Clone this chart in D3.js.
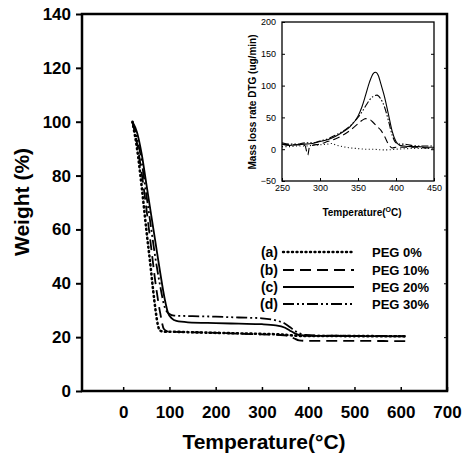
<!DOCTYPE html>
<html>
<head>
<meta charset="utf-8">
<script src="https://d3js.org/d3.v7.min.js"></script>
<style>
  body { margin: 0; background: #fff; }
  text { font-family: "Liberation Sans", Arial, sans-serif; fill: #000; }
</style>
</head>
<body>
<svg width="467" height="457"></svg>
<script>
// ---- data ----
const seriesNames = ['PEG 0%', 'PEG 10%', 'PEG 20%', 'PEG 30%'];
const seriesTags = ['(a)', '(b)', '(c)', '(d)'];

// TGA weight curves: [temperature, weight %]
const tgaA = [[20,100],[30,90],[40,76],[50,60],[60,45],[65,37],[70,30],[75,24.5],[80,22.4],[90,22],[100,22],[150,21.8],[200,21.6],[250,21.4],[300,21.2],[340,21],[355,20.8],[370,20.6],[390,20.4],[450,20.4],[610,20.3]];
const tgaB = [[20,100],[30,92],[40,81],[50,68],[60,54],[70,40],[80,29],[88,23],[95,22.2],[100,22],[150,21.8],[200,21.6],[250,21.3],[300,21],[340,20.8],[360,20.3],[370,19.5],[380,18.8],[400,18.6],[500,18.6],[610,18.5]];
const tgaC = [[20,100],[30,96],[40,88],[50,77],[60,66],[70,55],[80,44],[90,34],[97,29],[105,27],[115,26],[140,25.5],[200,25.2],[250,25],[300,24.8],[330,24.4],[350,23.5],[360,22.5],[370,21.5],[380,20.8],[400,20.5],[500,20.4],[610,20.3]];
const tgaD = [[20,100],[30,94],[40,85],[50,73],[60,61],[70,49],[80,39],[90,31],[100,28.6],[110,28],[150,27.8],[200,27.6],[250,27.3],[300,27],[330,26.2],[350,25],[360,23.8],[370,22.5],[380,21.5],[395,20.8],[420,20.6],[500,20.5],[610,20.4]];

// DTG inset curves: [temperature, mass loss rate]
const dtgA = [[250,4],[260,4],[270,5],[280,5],[290,6],[300,7],[310,8],[315,9],[320,7],[330,4],[340,2],[350,1],[360,0],[370,0],[380,-1],[390,-1],[400,0],[420,1],[450,1]];
const dtgB = [[250,8],[260,7],[270,7],[280,6],[284,-9],[286,3],[290,6],[300,8],[310,12],[320,16],[330,22],[340,30],[350,40],[355,45],[360,48],[365,47],[370,42],[375,36],[380,30],[385,20],[390,8],[395,2],[400,3],[410,3],[420,3],[430,3],[440,2],[450,2]];
const dtgC = [[250,8],[260,6],[270,7],[280,8],[290,9],[300,12],[310,15],[320,20],[330,27],[340,36],[350,52],[355,66],[360,85],[365,105],[370,119],[373,121],[377,115],[380,103],[385,82],[390,55],[395,28],[400,12],[405,6],[410,5],[420,4],[430,4],[440,3],[450,3]];
const dtgD = [[250,10],[260,8],[270,8],[280,10],[290,10],[300,13],[310,16],[320,22],[330,28],[340,37],[350,50],[355,58],[360,68],[365,77],[370,83],[375,85],[380,79],[385,66],[390,45],[395,22],[400,10],[405,8],[410,8],[420,6],[430,5],[440,5],[450,5]];

const mainXTicks = [0, 100, 200, 300, 400, 500, 600, 700];
const mainYTicks = [0, 20, 40, 60, 80, 100, 120, 140];
const insetXTicks = [250, 300, 350, 400, 450];
const insetYTicks = [-50, 0, 50, 100, 150, 200];

const dashes = ['1,3.5', '11,6', null, '11,3,2,3,2,3'];

const svg = d3.select('svg');

// ---- main chart ----
const x = d3.scaleLinear().domain([-89, 700]).range([82, 447]);
const y = d3.scaleLinear().domain([0, 140]).range([391, 14]);

const line = d3.line().x(d => x(d[0])).y(d => y(d[1])).curve(d3.curveMonotoneX);

const tga = [tgaA, tgaB, tgaC, tgaD];
tga.forEach((s, i) => {
    svg.append('path')
        .attr('d', line(s))
        .attr('fill', 'none')
        .attr('stroke', '#000')
        .attr('stroke-width', i === 0 ? 2.6 : 1.8)
        .attr('stroke-linecap', i === 0 ? 'round' : 'butt')
        .attr('stroke-dasharray', dashes[i]);
});

// frame
svg.append('rect')
    .attr('x', 82).attr('y', 14).attr('width', 365).attr('height', 377)
    .attr('fill', 'none').attr('stroke', '#000').attr('stroke-width', 2.5);

// y axis (ticks outward)
const yAxis = svg.append('g').attr('transform', 'translate(82,0)')
    .call(d3.axisLeft(y).tickValues(mainYTicks).tickSize(6).tickPadding(5));
yAxis.select('.domain').remove();
yAxis.selectAll('line').attr('stroke-width', 2);
yAxis.selectAll('text').attr('font-size', 17).attr('font-weight', 'bold')
    .style('font-family', '"Liberation Sans", Arial, sans-serif');

// x axis (ticks inward)
const xAxis = svg.append('g').attr('transform', 'translate(0,391)')
    .call(d3.axisBottom(x).tickValues(mainXTicks).tickSizeInner(-4).tickSizeOuter(0).tickPadding(15));
xAxis.select('.domain').remove();
xAxis.selectAll('line').attr('stroke-width', 1.5);
xAxis.selectAll('text').attr('font-size', 17).attr('font-weight', 'bold')
    .style('font-family', '"Liberation Sans", Arial, sans-serif');

// right side small ticks
svg.append('g').attr('transform', 'translate(447,0)')
    .call(d3.axisRight(y).tickValues(mainYTicks.slice(1, -1)).tickSize(-3).tickFormat(''))
    .call(g => g.select('.domain').remove());

svg.append('text')
    .attr('x', 264).attr('y', 449)
    .attr('text-anchor', 'middle')
    .attr('font-size', 21).attr('font-weight', 'bold')
    .text('Temperature(°C)');

svg.append('text')
    .attr('transform', 'translate(29,202) rotate(-90)')
    .attr('text-anchor', 'middle')
    .attr('font-size', 21).attr('font-weight', 'bold')
    .text('Weight (%)');

// legend
const legY = [252, 270, 287, 304];
seriesNames.forEach((name, i) => {
    svg.append('text')
        .attr('x', 278).attr('y', legY[i] + 5)
        .attr('text-anchor', 'end')
        .attr('font-size', 14).attr('font-weight', 'bold')
        .text(seriesTags[i]);
    svg.append('line')
        .attr('x1', 283).attr('x2', 354)
        .attr('y1', legY[i]).attr('y2', legY[i])
        .attr('stroke', '#000')
        .attr('stroke-width', i === 0 ? 2.4 : 1.8)
        .attr('stroke-linecap', i === 0 ? 'round' : 'butt')
        .attr('stroke-dasharray', dashes[i]);
    svg.append('text')
        .attr('x', 372).attr('y', legY[i] + 5)
        .attr('font-size', 13).attr('font-weight', 'bold')
        .text(name);
});

// ---- inset ----
const ix = d3.scaleLinear().domain([250, 450]).range([282, 434]);
const iy = d3.scaleLinear().domain([-50, 200]).range([181, 22]);
const iline = d3.line().x(d => ix(d[0])).y(d => iy(d[1])).curve(d3.curveMonotoneX);

const dtg = [dtgA, dtgB, dtgC, dtgD];
const idashes = ['1,2.5', '7,4', null, '7,2,1.5,2,1.5,2'];
dtg.forEach((s, i) => {
    svg.append('path')
        .attr('d', iline(s))
        .attr('fill', 'none')
        .attr('stroke', '#000')
        .attr('stroke-width', 1.1)
        .attr('stroke-dasharray', idashes[i]);
});

svg.append('rect')
    .attr('x', 282).attr('y', 22).attr('width', 152).attr('height', 159)
    .attr('fill', 'none').attr('stroke', '#000').attr('stroke-width', 1.3);

const iyAxis = svg.append('g').attr('transform', 'translate(282,0)')
    .call(d3.axisLeft(iy).tickValues(insetYTicks).tickSizeInner(-3).tickSizeOuter(0).tickPadding(6));
iyAxis.select('.domain').remove();
iyAxis.selectAll('text').attr('font-size', 9)
    .style('font-family', '"Liberation Sans", Arial, sans-serif');

const ixAxis = svg.append('g').attr('transform', 'translate(0,181)')
    .call(d3.axisBottom(ix).tickValues(insetXTicks).tickSizeInner(-3).tickSizeOuter(0).tickPadding(4));
ixAxis.select('.domain').remove();
ixAxis.selectAll('text').attr('font-size', 9)
    .style('font-family', '"Liberation Sans", Arial, sans-serif');

svg.append('g').attr('transform', 'translate(434,0)')
    .call(d3.axisRight(iy).tickValues(insetYTicks.slice(1, -1)).tickSize(-3).tickFormat(''))
    .call(g => g.select('.domain').remove());

const ititle = svg.append('text')
    .attr('x', 362).attr('y', 216)
    .attr('text-anchor', 'middle')
    .attr('font-size', 10).attr('font-weight', 'bold');
ititle.append('tspan').text('Temperature(');
ititle.append('tspan').attr('font-size', 7).attr('dy', -4).text('O');
ititle.append('tspan').attr('dy', 4).text('C)');

svg.append('text')
    .attr('transform', 'translate(256,102) rotate(-90)')
    .attr('text-anchor', 'middle')
    .attr('font-size', 10).attr('font-weight', 'bold')
    .text('Mass loss rate DTG (ug/min)');
</script>
</body>
</html>
